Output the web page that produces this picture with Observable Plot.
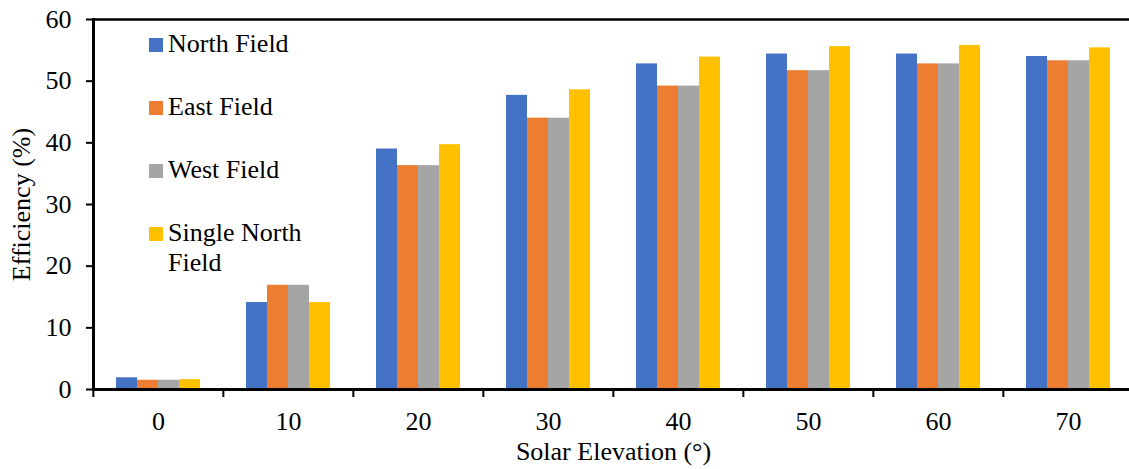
<!DOCTYPE html>
<html>
<head>
<meta charset="utf-8">
<script src="https://cdn.jsdelivr.net/npm/d3@7"></script>
<script src="https://cdn.jsdelivr.net/npm/@observablehq/plot@0.6"></script>
<style>
  body { margin: 0; background: #fff; }
  #wrap { position: relative; width: 1129px; height: 469px; overflow: hidden; background: #fff;
          font-family: "Liberation Serif", "Times New Roman", Times, serif; color: #000; }
  #wrap svg text { font-family: "Liberation Serif", "Times New Roman", Times, serif; }
  .lg-sw { position: absolute; width: 14px; height: 14px; }
  .lg-tx { position: absolute; font-family: "Liberation Serif", "Times New Roman", Times, serif;
           font-size: 26px; line-height: 30px; width: 150px; color: #000; font-weight: normal; }
</style>
</head>
<body>
<div id="wrap"></div>
<script>
// ---- data ----
const elevations = [0, 10, 20, 30, 40, 50, 60, 70];
const seriesNames = ["North Field", "East Field", "West Field", "Single North Field"];
const seriesColors = ["#4472C4", "#ED7D31", "#A5A5A5", "#FFC000"];
const northField       = [1.9, 14.1, 39.0, 47.7, 52.8, 54.4, 54.4, 54.0];
const eastField        = [1.5, 16.9, 36.3, 44.0, 49.2, 51.7, 52.8, 53.3];
const westField        = [1.5, 16.9, 36.3, 44.0, 49.2, 51.7, 52.8, 53.3];
const singleNorthField = [1.6, 14.1, 39.7, 48.6, 53.9, 55.6, 55.8, 55.4];
const yTicks = [0, 10, 20, 30, 40, 50, 60];
const yLabel = "Efficiency (%)";
const xLabel = "Solar Elevation (°)";

const seriesValues = [northField, eastField, westField, singleNorthField];
const rows = elevations.flatMap((e, i) =>
  seriesNames.map((s, j) => ({elevation: e, series: s, value: seriesValues[j][i]})));

const W = 1129, H = 469;
const mLeft = 92, mRight = -5.6, mTop = 19, mBottom = 80;
const halfBand = (W - mLeft - mRight) / elevations.length / 2;

const chart = Plot.plot({
  width: W,
  height: H,
  marginLeft: mLeft,
  marginRight: mRight,
  marginTop: mTop,
  marginBottom: mBottom,
  style: {fontFamily: "'Liberation Serif', 'Times New Roman', Times, serif", fontSize: "26px", color: "#000", background: "#fff", overflow: "visible"},
  fx: {domain: elevations, padding: 0},
  x: {domain: seriesNames, paddingInner: 0, paddingOuter: 1, axis: null},
  y: {domain: [0, 60]},
  color: {domain: seriesNames, range: seriesColors},
  marks: [
    Plot.barY(rows, {fx: "elevation", x: "series", y: "value", fill: "series"}),
    Plot.ruleY([60], {strokeWidth: 2.5, stroke: "#000"}),
    Plot.ruleY([0], {strokeWidth: 3, stroke: "#000"}),
    Plot.frame({anchor: "left", facet: "super", strokeWidth: 3, stroke: "#000"}),
    Plot.axisY({ticks: yTicks, tickSize: 7, tickPadding: 15, strokeWidth: 2,
                label: yLabel, labelAnchor: "center", labelOffset: 82, labelArrow: "none"}),
    Plot.axisFx({anchor: "bottom", tickSize: 0, tickPadding: 22, label: xLabel, labelAnchor: "center",
                 labelOffset: 70, labelArrow: "none"}),
    Plot.axisFx({anchor: "bottom", tickSize: 8, tickFormat: () => "", strokeWidth: 2, dx: -halfBand, label: null})
  ]
});

const wrap = document.getElementById("wrap");
wrap.appendChild(chart);

// legend (inside the plot area, top-left)
seriesNames.forEach((name, i) => {
  const base = 53 + i * 63;
  const sw = document.createElement("div");
  sw.className = "lg-sw";
  sw.style.left = "149px";
  sw.style.top = (base - 15) + "px";
  sw.style.background = seriesColors[i];
  wrap.appendChild(sw);
  const tx = document.createElement("div");
  tx.className = "lg-tx";
  tx.style.left = "168px";
  tx.style.top = (base - 23.8) + "px";
  tx.textContent = name;
  wrap.appendChild(tx);
});
</script>
</body>
</html>
